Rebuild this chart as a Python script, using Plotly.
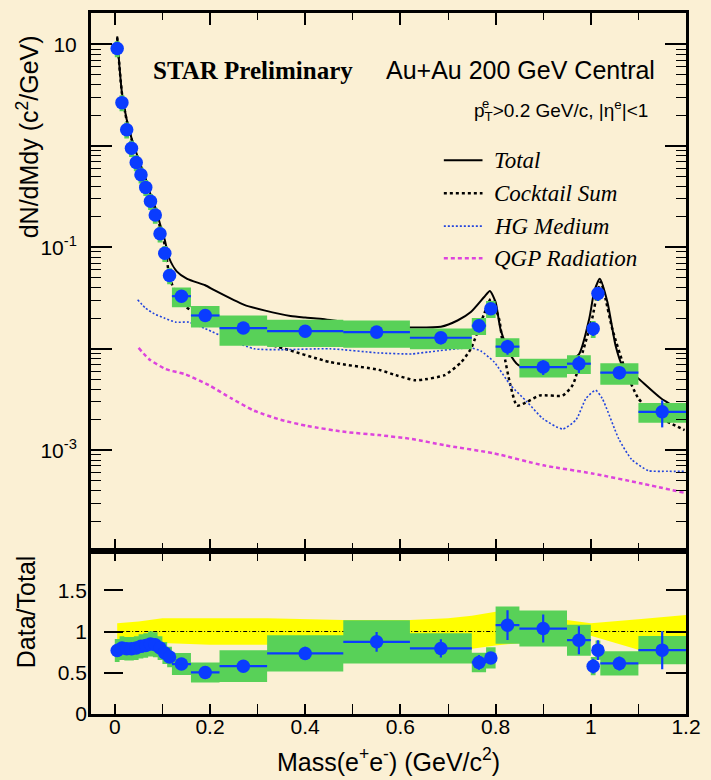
import plotly.graph_objects as go

# ---------------- measured e+e- yield, Au+Au 200 GeV central ----------------
bin_lo = [0.00, 0.01, 0.02, 0.03, 0.04, 0.05, 0.06, 0.07, 0.08, 0.09, 0.10, 0.11,
          0.12, 0.16, 0.22, 0.32, 0.48, 0.62, 0.75, 0.78, 0.80, 0.85, 0.95, 1.00,
          1.01, 1.02, 1.10]
bin_hi = [0.01, 0.02, 0.03, 0.04, 0.05, 0.06, 0.07, 0.08, 0.09, 0.10, 0.11, 0.12,
          0.16, 0.22, 0.32, 0.48, 0.62, 0.75, 0.78, 0.80, 0.85, 0.95, 1.00, 1.01,
          1.02, 1.10, 1.20]
yield_data = [9.1, 2.67, 1.44, 0.95, 0.687, 0.52, 0.39, 0.284, 0.208, 0.136, 0.0875,
              0.0528, 0.033, 0.0213, 0.016, 0.0149, 0.0146, 0.01285, 0.0169, 0.0248,
              0.0105, 0.0066, 0.00713, 0.0158, 0.0350, 0.00582, 0.00239]
ratio_data = [0.77, 0.80, 0.79, 0.79, 0.80, 0.82, 0.83, 0.85, 0.84, 0.80, 0.74, 0.69,
              0.605, 0.504, 0.58, 0.734, 0.875, 0.795, 0.625, 0.68, 1.077, 1.036,
              0.895, 0.58, 0.774, 0.613, 0.774]
ratio_stat = [0.02, 0.02, 0.02, 0.02, 0.02, 0.02, 0.02, 0.02, 0.02, 0.02, 0.02, 0.02,
              0.03, 0.03, 0.04, 0.08, 0.12, 0.11, 0.09, 0.06, 0.18, 0.17, 0.17, 0.09,
              0.12, 0.085, 0.23]
sys_rel = [0.18, 0.18, 0.18, 0.18, 0.18, 0.18, 0.18, 0.18, 0.18, 0.18, 0.18, 0.18,
           0.22, 0.24, 0.33, 0.30, 0.30, 0.23, 0.19, 0.19, 0.21, 0.21, 0.21, 0.19,
           0.15, 0.24, 0.22]

# ---------------- model curves ----------------
total_m = [0.005, 0.008, 0.015, 0.025, 0.035, 0.045, 0.055, 0.065, 0.075, 0.085, 0.095,
           0.105, 0.115, 0.13, 0.152, 0.19, 0.21, 0.272, 0.314, 0.369, 0.40, 0.431,
           0.55, 0.62, 0.685, 0.72, 0.748, 0.776, 0.788, 0.80, 0.81, 0.828, 0.848,
           0.90, 0.948, 0.975, 0.997, 1.007, 1.019, 1.035, 1.052, 1.066, 1.097,
           1.148, 1.196]
total_y = [12.0, 7.7, 3.34, 1.82, 1.20, 0.86, 0.634, 0.47, 0.334, 0.248, 0.17,
           0.118, 0.0765, 0.058, 0.0489, 0.0423, 0.0376, 0.0271, 0.0239, 0.0210,
           0.0203, 0.0198, 0.0167, 0.0162, 0.0165, 0.019, 0.023, 0.0324, 0.0372,
           0.0288, 0.0158, 0.0093, 0.0069, 0.0064, 0.0074, 0.0088, 0.020, 0.0363,
           0.049, 0.0288, 0.0108, 0.0069, 0.00525, 0.00324, 0.0024]

cocktail_m = [0.005, 0.015, 0.025, 0.035, 0.045, 0.055, 0.065, 0.075, 0.085, 0.095,
              0.105, 0.115, 0.125, 0.14, 0.16, 0.19, 0.22, 0.27, 0.341, 0.452, 0.555,
              0.59, 0.631, 0.652, 0.693, 0.728, 0.748, 0.776, 0.79, 0.807, 0.817,
              0.831, 0.845, 0.866, 0.893, 0.941, 0.962, 0.983, 1.003, 1.014, 1.021,
              1.031, 1.045, 1.072, 1.10, 1.134, 1.183, 1.197]
cocktail_y = [11.7, 3.3, 1.78, 1.17, 0.83, 0.62, 0.45, 0.32, 0.235, 0.158, 0.105,
              0.051, 0.038, 0.028, 0.024, 0.0214, 0.0174, 0.0126, 0.0105, 0.0074,
              0.0062, 0.0055, 0.0049, 0.0050, 0.0055, 0.0074, 0.0100, 0.0221, 0.0309,
              0.020, 0.0093, 0.0044, 0.00275, 0.0030, 0.00347, 0.00347, 0.0044,
              0.0093, 0.020, 0.0363, 0.0457, 0.0309, 0.0158, 0.0063, 0.00324,
              0.00224, 0.0017, 0.00158]

hg_m = [0.048, 0.065, 0.083, 0.105, 0.128, 0.155, 0.19, 0.245, 0.293, 0.348, 0.452,
        0.555, 0.624, 0.659, 0.748, 0.769, 0.797, 0.831, 0.866, 0.90, 0.941, 0.969,
        0.99, 1.01, 1.024, 1.059, 1.086, 1.121, 1.162, 1.197]
hg_y = [0.0304, 0.0251, 0.0221, 0.020, 0.0183, 0.0183, 0.0158, 0.0121, 0.0100,
        0.0098, 0.0100, 0.0091, 0.0089, 0.0093, 0.0102, 0.0095, 0.0074, 0.0044,
        0.0030, 0.00204, 0.00162, 0.0020, 0.00324, 0.0039, 0.00324, 0.00129,
        0.00081, 0.00063, 0.00062, 0.00062]

qgp_m = [0.05, 0.072, 0.107, 0.148, 0.197, 0.245, 0.293, 0.348, 0.403, 0.486, 0.555,
         0.624, 0.693, 0.797, 0.90, 1.003, 1.107, 1.197]
qgp_y = [0.0102, 0.0079, 0.0063, 0.0056, 0.0044, 0.00324, 0.00245, 0.0020, 0.00174,
         0.00151, 0.00141, 0.00129, 0.00112, 0.00093, 0.00071, 0.00059, 0.00047,
         0.00038]

# model uncertainty band on Data/Total
band_m = [0.005, 0.05, 0.10, 0.20, 0.32, 0.48, 0.62, 0.70, 0.75, 0.80, 0.85, 0.95,
          1.00, 1.10, 1.20]
band_hi = [1.10, 1.12, 1.16, 1.16, 1.16, 1.14, 1.14, 1.16, 1.19, 1.24, 1.20, 1.14,
           1.10, 1.15, 1.20]
band_lo = [0.90, 0.88, 0.86, 0.84, 0.84, 0.85, 0.86, 0.84, 0.79, 0.83, 0.86, 0.92,
           0.95, 0.78, 0.76]

x_ticks = [0, 0.2, 0.4, 0.6, 0.8, 1.0, 1.2]
x_ticktext = ["0", "0.2", "0.4", "0.6", "0.8", "1", "1.2"]
y_decades = [1e-3, 1e-2, 1e-1, 1, 10]
y_decade_text = ["10<sup>-3</sup>", "", "10<sup>-1</sup>", "", "10"]
r_ticks = [0, 0.5, 1, 1.5]
r_ticktext = ["0", "0.5", "1", "1.5"]

BG = "#FBF0D4"
BLUE = "#0A3CFF"
GREEN = "#58D158"
FONT = "Liberation Sans"
SERIF = "Liberation Serif"

mass = [(a + b) / 2 for a, b in zip(bin_lo, bin_hi)]
half_w = [(b - a) / 2 for a, b in zip(bin_lo, bin_hi)]
yield_stat = [v * s / r for v, s, r in zip(yield_data, ratio_stat, ratio_data)]


def boxes(lo, hi, centre, rel):
    xs, ys = [], []
    for a, b, c, s in zip(lo, hi, centre, rel):
        yl, yh = c * (1 - s), c * (1 + s)
        xs += [a, b, b, a, a, None]
        ys += [yl, yl, yh, yh, yl, None]
    return xs, ys


def curve(xv, yv, color, width, dash="solid"):
    return go.Scatter(x=xv, y=yv, mode="lines",
                      line=dict(color=color, width=width, dash=dash,
                                shape="spline", smoothing=0.6),
                      xaxis="x", yaxis="y")


fig = go.Figure()

# ---------- upper panel ----------
fig.add_trace(curve(total_m, total_y, "black", 2))
fig.add_trace(curve(cocktail_m, cocktail_y, "black", 2.5, "3px,3px"))
fig.add_trace(curve(hg_m, hg_y, "#2244DD", 1.6, "2px,2px"))
fig.add_trace(curve(qgp_m, qgp_y, "#DD44DD", 2.5, "4px,3px"))
bx, by = boxes(bin_lo, bin_hi, yield_data, sys_rel)
fig.add_trace(go.Scatter(x=bx, y=by, mode="lines", fill="toself", fillcolor=GREEN,
                         line=dict(width=0, color=GREEN), xaxis="x", yaxis="y"))
fig.add_trace(go.Scatter(
    x=mass, y=yield_data, mode="markers",
    marker=dict(color=BLUE, size=13.5, line=dict(width=0)),
    error_x=dict(type="data", array=half_w, color=BLUE, thickness=2.2, width=0),
    error_y=dict(type="data", array=yield_stat, color=BLUE, thickness=2.2, width=0),
    xaxis="x", yaxis="y"))

# ---------- lower panel ----------
fig.add_trace(go.Scatter(x=band_m + band_m[::-1], y=band_hi + band_lo[::-1],
                         mode="lines", fill="toself", fillcolor="#FFFF00",
                         line=dict(width=0, color="#FFFF00"), xaxis="x2", yaxis="y2"))
fig.add_trace(go.Scatter(x=[band_m[0], band_m[-1]], y=[1, 1], mode="lines",
                         line=dict(color="black", width=1, dash="4px,2px,1px,2px"),
                         xaxis="x2", yaxis="y2"))
rx, ry = boxes(bin_lo, bin_hi, ratio_data, sys_rel)
fig.add_trace(go.Scatter(x=rx, y=ry, mode="lines", fill="toself", fillcolor=GREEN,
                         line=dict(width=0, color=GREEN), xaxis="x2", yaxis="y2"))
fig.add_trace(go.Scatter(
    x=mass, y=ratio_data, mode="markers",
    marker=dict(color=BLUE, size=13.5, line=dict(width=0)),
    error_x=dict(type="data", array=half_w, color=BLUE, thickness=2.2, width=0),
    error_y=dict(type="data", array=ratio_stat, color=BLUE, thickness=2.2, width=0),
    xaxis="x2", yaxis="y2"))

minor_log = [m * d for d in [1e-4, 1e-3, 1e-2, 1e-1, 1, 10] for m in range(2, 10)]

tickfont = dict(family=FONT, size=21, color="black")
split = 0.233

common_x = dict(range=[-0.05, 1.2], showgrid=False, zeroline=False, showline=True,
                linecolor="black", linewidth=3, mirror="allticks", ticks="inside",
                tickmode="array", tickvals=x_ticks, tickwidth=1.6, tickcolor="black",
                minor=dict(tickmode="array", tickvals=[0.1, 0.3, 0.5, 0.7, 0.9, 1.1],
                           ticks="inside", tickwidth=1.4, tickcolor="black"))

fig.update_layout(
    width=711, height=780,
    margin=dict(l=91, r=18, t=10, b=66),
    paper_bgcolor=BG, plot_bgcolor=BG,
    showlegend=False,
    xaxis=dict(**common_x, domain=[0, 1], anchor="y", showticklabels=False,
               ticklen=12),
    xaxis2=dict(**common_x, domain=[0, 1], anchor="y2", ticklen=10,
                ticktext=x_ticktext, tickfont=tickfont, ticklabelstandoff=-8),
    yaxis=dict(type="log", range=[-3.99, 1.31], domain=[split, 1], anchor="x",
               showgrid=False, zeroline=False, showline=True, linecolor="black",
               linewidth=3, mirror="allticks", ticks="inside", ticklen=21,
               tickwidth=1.6, tickcolor="black", tickmode="array",
               tickvals=y_decades, ticktext=y_decade_text, tickfont=tickfont,
               ticklabelstandoff=7,
               minor=dict(tickmode="array", tickvals=minor_log, ticks="inside",
                          ticklen=10, tickwidth=1.4, tickcolor="black")),
    yaxis2=dict(range=[0, 1.98], domain=[0, split], anchor="x2", side="right",
                showgrid=False, zeroline=False, showline=True, linecolor="black",
                linewidth=3, mirror=True, ticks="inside", ticklen=20,
                tickwidth=1.6, tickcolor="black", tickmode="array",
                tickvals=r_ticks, showticklabels=False),
    yaxis3=dict(range=[0, 1.98], overlaying="y2", anchor="free", position=0.02,
                side="left", showgrid=False, zeroline=False, showline=False,
                ticks="inside", ticklen=19, tickwidth=1.6, tickcolor="black",
                tickmode="array", tickvals=r_ticks, ticktext=r_ticktext,
                tickfont=tickfont, ticklabelstandoff=16),
)

# empty trace that brings the offset ratio axis into the layout
fig.add_trace(go.Scatter(x=[None], y=[None], xaxis="x2", yaxis="y3"))

ann = []
ann.append(dict(text="dN/dMdy (c<sup>2</sup>/GeV)", x=-0.106, y=0.824, textangle=-90,
                font=dict(family=FONT, size=25, color="black")))
ann.append(dict(text="Data/Total", x=-0.11, y=0.146, textangle=-90,
                font=dict(family=FONT, size=25, color="black")))
ann.append(dict(text="Mass(e<sup>+</sup>e<sup>-</sup>) (GeV/c<sup>2</sup>)", x=0.5,
                y=-0.066, font=dict(family=FONT, size=25, color="black")))
ann.append(dict(text="<b>STAR Preliminary</b>", x=0.101, y=0.918, xanchor="left",
                font=dict(family=SERIF, size=25, color="black")))
ann.append(dict(text="Au+Au 200 GeV Central", x=0.492, y=0.918, xanchor="left",
                font=dict(family=FONT, size=25, color="black")))
# p_T^e with the e stacked above the T subscript
ann.append(dict(text="p<sub>T</sub>>0.2 GeV/c, |η<sup>e</sup>|<1",
                x=0.94, y=0.861, xanchor="right",
                font=dict(family=FONT, size=19, color="black")))
ann.append(dict(text="e", x=0.6545, y=0.8715, xanchor="left",
                font=dict(family=FONT, size=13, color="black")))

legend_rows = [("Total", "black", "solid", 2),
               ("Cocktail Sum", "black", "3px,3px", 2.5),
               ("HG Medium", "#2244DD", "2px,2px", 1.6),
               ("QGP Radiation", "#DD44DD", "4px,3px", 2.5)]
legend_y = [0.790, 0.743, 0.696, 0.650]
shapes = []
for (name, col, dash, w), yy in zip(legend_rows, legend_y):
    ann.append(dict(text="<i>" + name + "</i>", x=0.674, y=yy, xanchor="left",
                    font=dict(family=SERIF, size=23, color="black")))
    shapes.append(dict(type="line", xref="paper", yref="paper", x0=0.593, x1=0.658,
                       y0=yy, y1=yy, line=dict(color=col, width=w, dash=dash)))

for a in ann:
    a.setdefault("xref", "paper")
    a.setdefault("yref", "paper")
    a.setdefault("showarrow", False)
    a.setdefault("xanchor", "center")
    a.setdefault("yanchor", "middle")

fig.update_layout(annotations=ann, shapes=shapes)

fig.write_html("out.html")
